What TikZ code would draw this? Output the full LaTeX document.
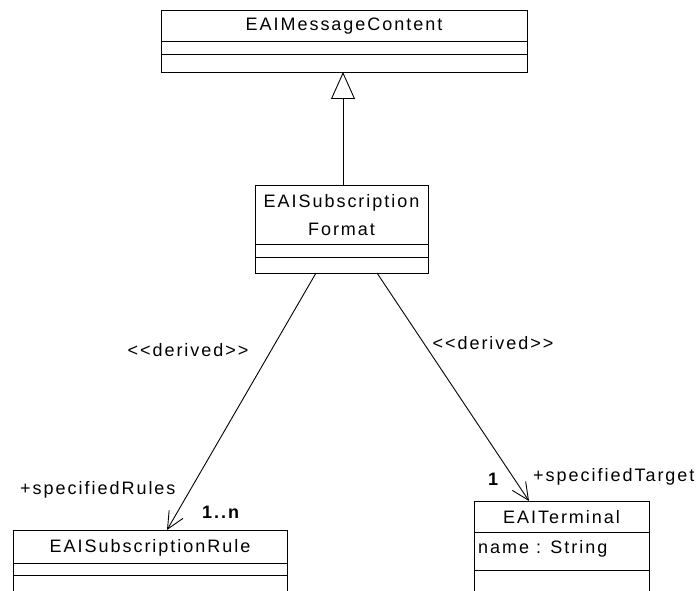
\documentclass[tikz,border=0pt]{standalone}
\usepackage{fontspec}
\setmainfont{Liberation Sans}[LetterSpace=11]
\usetikzlibrary{arrows.meta}
\begin{document}
\begin{tikzpicture}[x=1pt,y=-1pt,
  classbox/.style={draw, line width=1.1pt, inner sep=0pt, anchor=north west},
  divider/.style={line width=1pt},
  txt/.style={font=\fontsize{18}{22}\selectfont, inner sep=0pt},
  gen/.style={line width=0.9pt, -{Triangle[open, length=27pt, width=24pt, fill=white]}},
  dep/.style={line width=0.9pt, -{Straight Barb[length=17pt, width=16pt, line width=0.9pt]}}]
\useasboundingbox (0,0) rectangle (698,591);
\clip (0,0) rectangle (698,591);
% EAIMessageContent
\node[classbox, minimum width=366pt, minimum height=62pt] (mc) at (161,10) {};
\draw[divider] (161,42) -- (527,42);
\draw[divider] (161,55) -- (527,55);
\node[txt] (mcname) at (344,26) {EAIMessageContent};
% EAISubscriptionFormat
\node[classbox, minimum width=173pt, minimum height=88pt] (fmt) at (255,185) {};
\draw[divider] (255,244) -- (428,244);
\draw[divider] (255,257) -- (428,257);
\node[txt] (fmtname1) at (341.5,203) {EAISubscription};
\node[txt] (fmtname2) at (341.5,229) {Format};
% EAISubscriptionRule
\node[classbox, minimum width=274pt, minimum height=80pt] (rule) at (13,530) {};
\draw[divider] (13,563) -- (287,563);
\draw[divider] (13,575) -- (287,575);
\node[txt] (rulename) at (150,548) {EAISubscriptionRule};
% EAITerminal
\node[classbox, minimum width=175pt, minimum height=100pt] (term) at (474,501) {};
\draw[divider] (474,532) -- (649,532);
\draw[divider] (474,570) -- (649,570);
\node[txt] (termname) at (561.5,517) {EAITerminal};
\node[txt, anchor=west] (termattr) at (478,549) {name : String};
% generalization
\coordinate (g1) at (343,185);
\coordinate (g2) at (343,72);
\draw[gen] (g1) -- (g2);
% dependencies
\coordinate (d1s) at (316,273);
\coordinate (d1e) at (167,530);
\coordinate (d2s) at (377,273);
\coordinate (d2e) at (529,501);
\draw[dep] (d1s) -- (d1e);
\draw[dep] (d2s) -- (d2e);
% labels
\node[txt] (lab1) at (188,350) {<{}<derived>{}>};
\node[txt] (lab2) at (493,343) {<{}<derived>{}>};
\node[txt, anchor=west] (role1) at (20,490) {+specifiedRules};
\node[txt, anchor=west, font=\fontsize{18}{22}\selectfont\bfseries] (mult1) at (202,512) {1..n};
\node[txt, font=\fontsize{18}{22}\selectfont\bfseries] (mult2) at (493,479) {1};
\node[txt, anchor=west] (role2) at (533,477) {+specifiedTarget};
\end{tikzpicture}
\end{document}
